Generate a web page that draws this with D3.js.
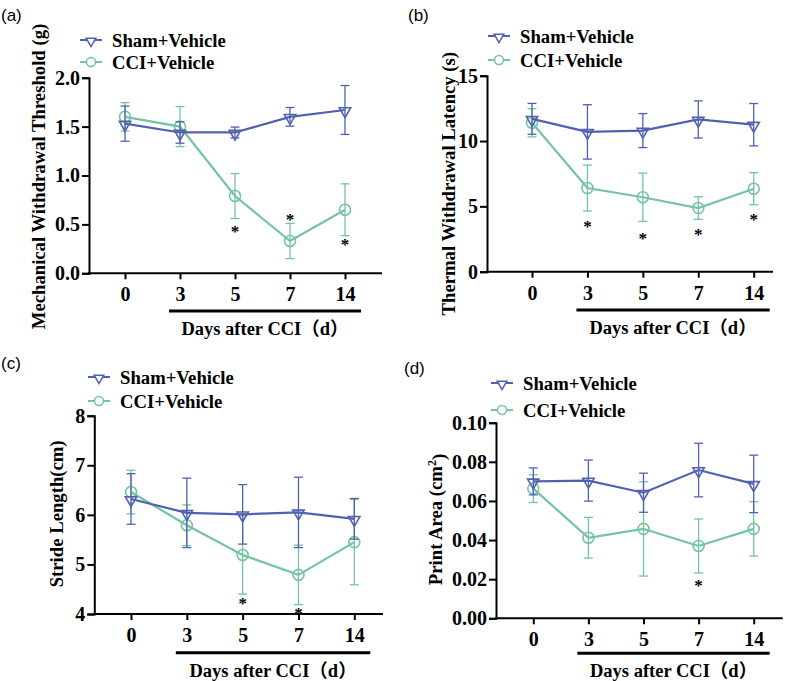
<!DOCTYPE html>
<html>
<head>
<meta charset="utf-8">
<script src="https://cdn.jsdelivr.net/npm/d3@7"></script>
<style>
  body { margin: 0; background: #fff; }
  svg { display: block; }
  .tick text { font-family: "Liberation Serif", "Times New Roman", serif; font-weight: bold; font-size: 20px; fill: #000; }
</style>
</head>
<body>
<div id="chart"></div>
<script>
var width = 796;
var height = 681;

var shamColor = "#5161b2";
var cciColor = "#74c4a2";

var days = ["0", "3", "5", "7", "14"];
var groups = ["Sham+Vehicle", "CCI+Vehicle"];

// (a) mechanical withdrawal threshold
var mwtSham = [1.53, 1.44, 1.44, 1.60, 1.67];
var mwtShamSd = [0.18, 0.11, 0.055, 0.095, 0.25];
var mwtCci = [1.60, 1.50, 0.79, 0.33, 0.65];
var mwtCciSd = [0.145, 0.205, 0.23, 0.18, 0.265];
var mwtStars = [{day: "5", y: 0.46}, {day: "7", y: 0.59}, {day: "14", y: 0.33}];

// (b) thermal withdrawal latency
var twlSham = [11.7, 10.7, 10.8, 11.65, 11.25];
var twlShamSd = [1.18, 2.08, 1.3, 1.42, 1.62];
var twlCci = [11.4, 6.4, 5.7, 4.87, 6.35];
var twlCciSd = [1.08, 1.76, 1.85, 0.86, 1.23];
var twlStars = [{day: "3", y: 3.7}, {day: "5", y: 2.81}, {day: "7", y: 3.11}, {day: "14", y: 4.26}];

// (c) stride length
var slSham = [6.32, 6.04, 6.01, 6.05, 5.92];
var slShamSd = [0.51, 0.70, 0.60, 0.71, 0.41];
var slCci = [6.46, 5.79, 5.19, 4.79, 5.45];
var slCciSd = [0.44, 0.41, 0.79, 0.60, 0.86];
var slStars = [{day: "5", y: 4.28}, {day: "7", y: 4.09}];

// (d) print area
var paSham = [0.0700, 0.0704, 0.0642, 0.0758, 0.0687];
var paShamSd = [0.0069, 0.0105, 0.0100, 0.0137, 0.0147];
var paCci = [0.0663, 0.0412, 0.0457, 0.0370, 0.0457];
var paCciSd = [0.0071, 0.0104, 0.0241, 0.0138, 0.0139];
var paStars = [{day: "7", y: 0.0184}];

var serif = '"Liberation Serif", "Times New Roman", "Noto Sans CJK SC", serif';

var svg = d3.select("#chart").append("svg")
    .attr("width", width)
    .attr("height", height);

function drawPanel(cfg) {
    var g = svg.append("g");

    var x = d3.scalePoint()
        .domain(days)
        .range([cfg.x0, cfg.x1]);

    var y = d3.scaleLinear()
        .domain(cfg.yDomain)
        .range([cfg.bottom, cfg.top]);

    /* panel letter */
    g.append("text")
        .attr("x", cfg.labelX)
        .attr("y", cfg.labelY)
        .style("font-family", '"Liberation Sans", Arial, sans-serif')
        .style("font-size", "17px")
        .text(cfg.letter);

    /* axes */
    var yAxis = d3.axisLeft(y)
        .tickValues(cfg.yTicks)
        .tickFormat(d3.format(cfg.fmt))
        .tickSizeOuter(0)
        .tickSize(7)
        .tickPadding(2);

    g.append("g")
        .attr("transform", `translate(${cfg.left},0)`)
        .call(yAxis)
        .call(a => a.selectAll("line, path").attr("stroke", "#000").attr("stroke-width", 2));

    var xAxis = d3.axisBottom(x)
        .tickSize(6)
        .tickPadding(8)
        .tickSizeOuter(0);

    g.append("g")
        .attr("transform", `translate(0,${cfg.bottom})`)
        .call(xAxis)
        .call(a => a.select(".domain").remove())
        .call(a => a.selectAll("line").attr("stroke", "#000").attr("stroke-width", 2));

    g.append("line")
        .attr("x1", cfg.left - 1)
        .attr("x2", cfg.right)
        .attr("y1", cfg.bottom)
        .attr("y2", cfg.bottom)
        .attr("stroke", "#000")
        .attr("stroke-width", 2);

    /* y title */
    var title = g.append("text")
        .attr("transform", `translate(${cfg.titleX},${(cfg.top + cfg.bottom) / 2 + cfg.titleShift}) rotate(-90)`)
        .attr("text-anchor", "middle")
        .style("font-family", serif)
        .style("font-weight", "bold")
        .style("font-size", "18.7px");
    title.append("tspan").text(cfg.yTitle);
    if (cfg.sup) {
        title.append("tspan").attr("dy", "-0.5em").style("font-size", "12px").text(cfg.sup);
        title.append("tspan").attr("dy", "0.5em").text(")");
    }

    /* "days after CCI" bar and label */
    g.append("line")
        .attr("x1", x("3") - 11)
        .attr("x2", x("14") + 16)
        .attr("y1", cfg.barY)
        .attr("y2", cfg.barY)
        .attr("stroke", "#000")
        .attr("stroke-width", 3);

    g.append("text")
        .attr("x", (x("3") - 11 + x("14") + 16) / 2)
        .attr("y", cfg.barY + 24)
        .attr("text-anchor", "middle")
        .style("font-family", serif)
        .style("font-weight", "bold")
        .style("font-size", "18.5px")
        .text("Days after CCI（d）");

    /* series */
    var series = [
        {name: groups[1], mean: cfg.cci, sd: cfg.cciSd, color: cciColor, shape: "circle"},
        {name: groups[0], mean: cfg.sham, sd: cfg.shamSd, color: shamColor, shape: "triangle"}
    ];

    var line = d3.line()
        .x((d, i) => x(days[i]))
        .y(d => y(d));

    var tri = d3.symbol().type(d3.symbolTriangle).size(56);
    var triSmall = d3.symbol().type(d3.symbolTriangle).size(40);

    series.forEach(function(s) {
        var sg = g.append("g");

        sg.append("path")
            .attr("d", line(s.mean))
            .attr("fill", "none")
            .attr("stroke", s.color)
            .attr("stroke-width", 2.2);

        var err = sg.selectAll(".err")
            .data(s.mean).enter()
            .append("g")
            .attr("stroke", s.color)
            .attr("stroke-width", 1.3);

        err.append("line")
            .attr("x1", (d, i) => x(days[i]))
            .attr("x2", (d, i) => x(days[i]))
            .attr("y1", (d, i) => y(d - s.sd[i]))
            .attr("y2", (d, i) => y(d + s.sd[i]));
        [-1, 1].forEach(function(sign) {
            err.append("line")
                .attr("x1", (d, i) => x(days[i]) - 4.5)
                .attr("x2", (d, i) => x(days[i]) + 4.5)
                .attr("y1", (d, i) => y(d + sign * s.sd[i]))
                .attr("y2", (d, i) => y(d + sign * s.sd[i]));
        });

        if (s.shape == "circle") {
            sg.selectAll("circle")
                .data(s.mean).enter()
                .append("circle")
                .attr("cx", (d, i) => x(days[i]))
                .attr("cy", d => y(d))
                .attr("r", 5.5)
                .attr("fill", "none")
                .attr("stroke", s.color)
                .attr("stroke-width", 1.6);
        } else {
            sg.selectAll(".mk")
                .data(s.mean).enter()
                .append("path")
                .attr("d", tri)
                .attr("transform", (d, i) => `translate(${x(days[i])},${y(d) + 1}) rotate(180)`)
                .attr("fill", "none")
                .attr("stroke", s.color)
                .attr("stroke-width", 1.6);
        }
    });

    /* significance marks */
    g.selectAll(".star")
        .data(cfg.stars).enter()
        .append("text")
        .attr("x", d => x(d.day))
        .attr("y", d => y(d.y) + 9)
        .attr("text-anchor", "middle")
        .style("font-family", serif)
        .style("font-weight", "bold")
        .style("font-size", "17px")
        .text("*");

    /* legend */
    var legend = g.selectAll(".legend")
        .data(series.slice().reverse()).enter()
        .append("g")
        .attr("transform", (d, i) => `translate(${cfg.legendX},${cfg.legendY + i * cfg.legendGap})`);

    legend.append("line")
        .attr("x1", 0)
        .attr("x2", 22)
        .attr("stroke", d => d.color)
        .attr("stroke-width", 2);

    legend.each(function(d) {
        var lg = d3.select(this);
        if (d.shape == "circle") {
            lg.append("circle").attr("cx", 11).attr("r", 4.5)
                .attr("fill", "#fff").attr("stroke", d.color).attr("stroke-width", 1.5);
        } else {
            lg.append("path").attr("d", triSmall)
                .attr("transform", "translate(11,1) rotate(180)")
                .attr("fill", "#fff").attr("stroke", d.color).attr("stroke-width", 1.5);
        }
    });

    legend.append("text")
        .attr("x", 32)
        .attr("dy", "0.35em")
        .style("font-family", serif)
        .style("font-weight", "bold")
        .style("font-size", "18.7px")
        .text(d => d.name);
}

drawPanel({
    letter: "(a)", labelX: 1, labelY: 21,
    left: 89, right: 382, top: 77.7, bottom: 273.3, x0: 125, x1: 345,
    yDomain: [0, 2], yTicks: [0, 0.5, 1, 1.5, 2], fmt: ".1f",
    yTitle: "Mechanical Withdrawal Threshold (g)", titleX: 45, titleShift: 1,
    barY: 311, legendX: 80, legendY: 40, legendGap: 22,
    sham: mwtSham, shamSd: mwtShamSd, cci: mwtCci, cciSd: mwtCciSd, stars: mwtStars
});

drawPanel({
    letter: "(b)", labelX: 408, labelY: 21,
    left: 487, right: 773, top: 75.7, bottom: 271.7, x0: 532, x1: 753.7,
    yDomain: [0, 15], yTicks: [0, 5, 10, 15], fmt: "d",
    yTitle: "Thermal Withdrawal Latency (s)", titleX: 455, titleShift: 10,
    barY: 310, legendX: 488, legendY: 36, legendGap: 24,
    sham: twlSham, shamSd: twlShamSd, cci: twlCci, cciSd: twlCciSd, stars: twlStars
});

drawPanel({
    letter: "(c)", labelX: 1, labelY: 369,
    left: 94.3, right: 383, top: 415.7, bottom: 614, x0: 131, x1: 354.3,
    yDomain: [4, 8], yTicks: [4, 5, 6, 7, 8], fmt: "d",
    yTitle: "Stride Length(cm)", titleX: 63, titleShift: -1,
    barY: 652.7, legendX: 88, legendY: 377, legendGap: 24,
    sham: slSham, shamSd: slShamSd, cci: slCci, cciSd: slCciSd, stars: slStars
});

drawPanel({
    letter: "(d)", labelX: 404, labelY: 374,
    left: 496, right: 782.7, top: 422.7, bottom: 618.3, x0: 533.3, x1: 753.7,
    yDomain: [0, 0.1], yTicks: [0, 0.02, 0.04, 0.06, 0.08, 0.10], fmt: ".2f",
    yTitle: "Print Area (cm", sup: "2", titleX: 442, titleShift: -1,
    barY: 653.3, legendX: 491, legendY: 383, legendGap: 27,
    sham: paSham, shamSd: paShamSd, cci: paCci, cciSd: paCciSd, stars: paStars
});
</script>
</body>
</html>
